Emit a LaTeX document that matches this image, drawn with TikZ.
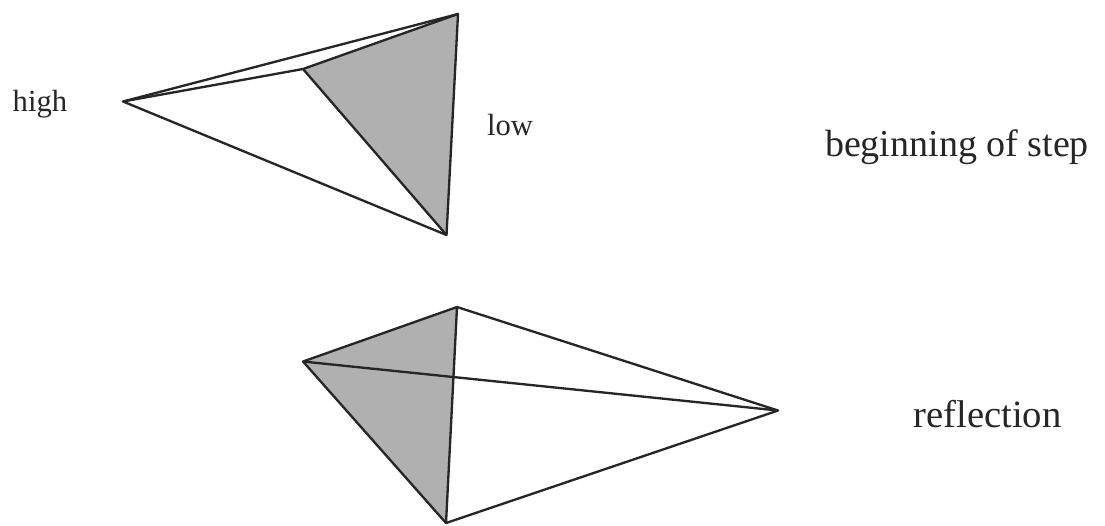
\documentclass[tikz,border=0pt]{standalone}
\usepackage{fontspec}
\setmainfont{Liberation Serif}
\tikzset{edge/.style={draw=black!85,line width=1.75pt,line join=round},
 shade/.style={fill=black!31},
 pt/.style={coordinate},
 lab/.style={inner sep=0pt,text=black!85}}
\begin{document}
\begin{tikzpicture}[x=1pt,y=-1pt,scale=0.75]
\useasboundingbox (0,0) rectangle (1105,525);
% upper
\node[pt] (hi) at (123,101.5) {};
\node[pt] (top) at (458,14) {};
\node[pt] (bot) at (446.5,235) {};
\node[pt] (c) at (303,69) {};
\fill[shade] (c.center) -- (top.center) -- (bot.center) -- cycle;
\draw[edge] (hi) -- (top) -- (bot) -- cycle;
\draw[edge] (hi) -- (c) -- (bot);
\draw[edge] (c) -- (top);
% lower
\node[pt] (r) at (778,410.5) {};
\node[pt] (t2) at (457,307) {};
\node[pt] (b2) at (446,523) {};
\node[pt] (c2) at (303,361.5) {};
\fill[shade] (c2.center) -- (t2.center) -- (b2.center) -- cycle;
\draw[edge] (c2) -- (t2) -- (r) -- (b2) -- cycle;
\draw[edge] (t2) -- (b2);
\draw[edge] (c2) -- (r);
\node[lab,font=\fontsize{23}{26}\selectfont] (high) at (40,104) {high};
\node[lab,font=\fontsize{23}{26}\selectfont] (low) at (510,125) {low};
\node[lab,font=\fontsize{28.5}{32}\selectfont] (beg) at (957,147) {beginning of step};
\node[lab,font=\fontsize{29}{33}\selectfont] (refl) at (987.5,414) {reflection};
\end{tikzpicture}
\end{document}
